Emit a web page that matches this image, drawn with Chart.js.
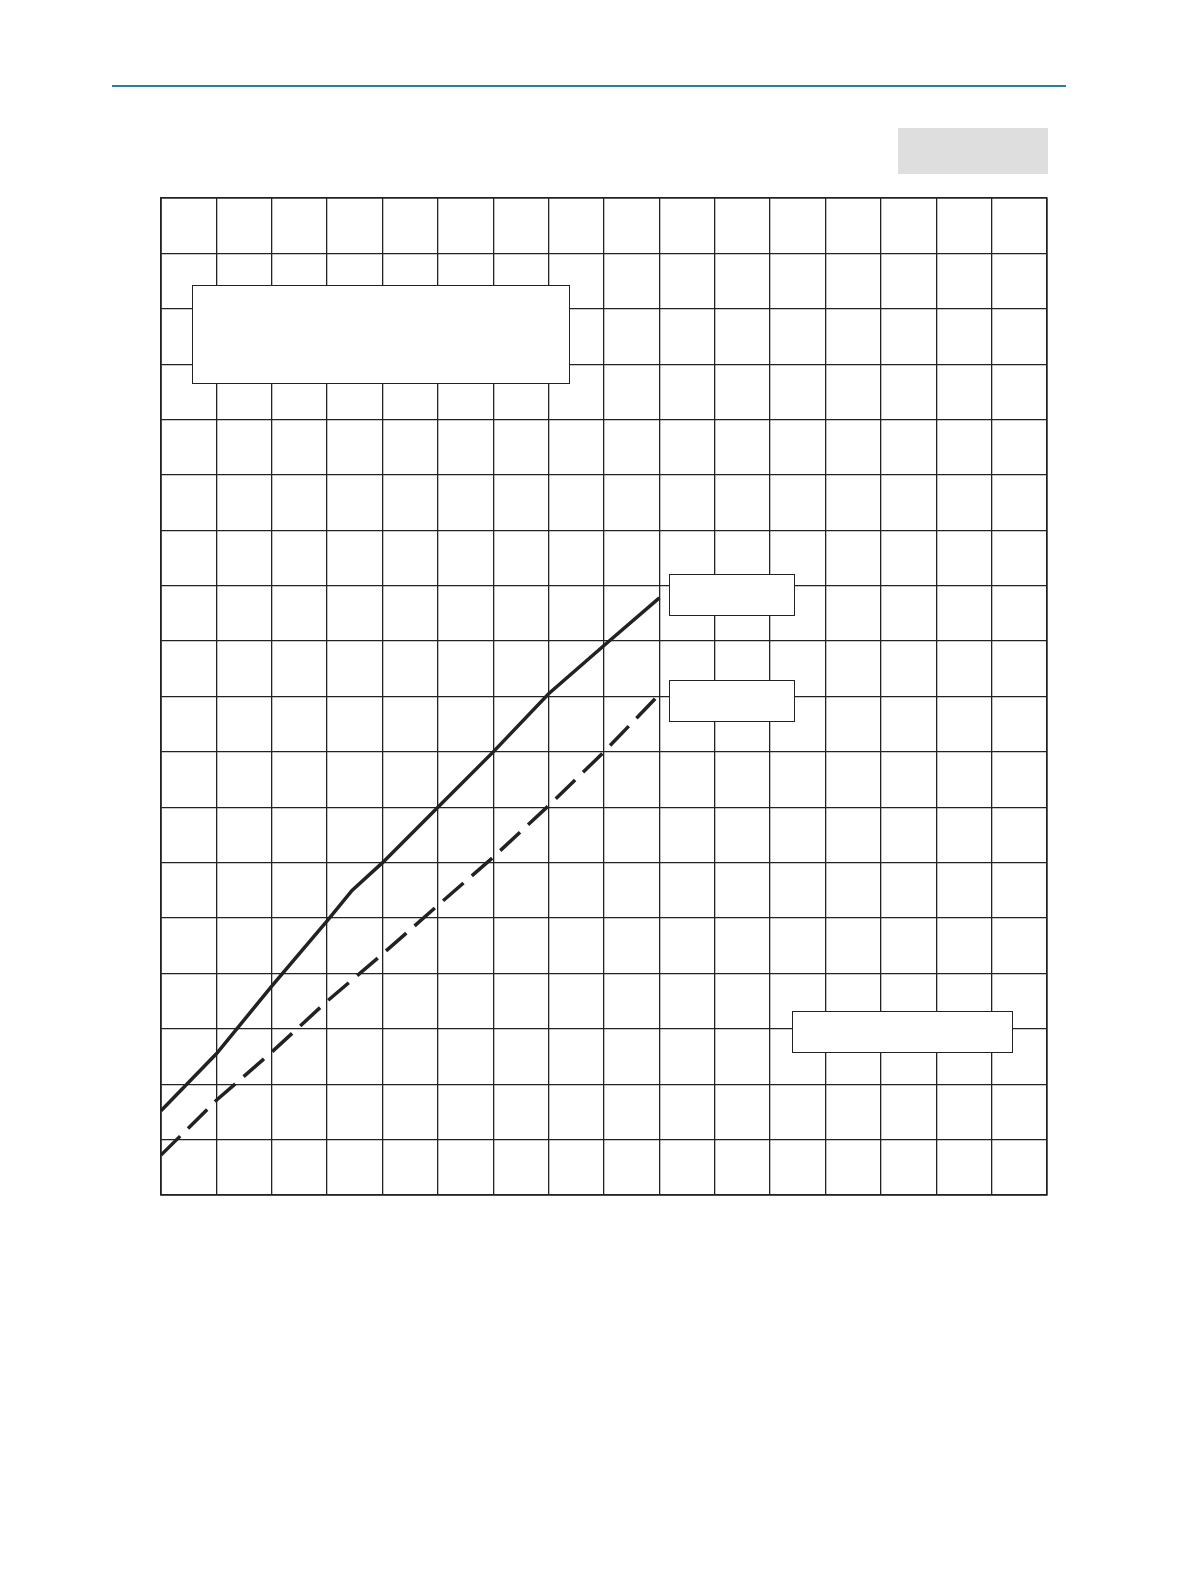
<!DOCTYPE html>
<html>
<head>
<meta charset="utf-8">
<script src="https://cdn.jsdelivr.net/npm/chart.js@4.4.0/dist/chart.umd.min.js"></script>
<style>
  html, body { margin: 0; padding: 0; background: #fff; }
  body { width: 1191px; height: 1584px; position: relative; overflow: hidden; font-family: "Noto Sans", sans-serif; }
  #rule { position: absolute; left: 112px; top: 85px; width: 954px; height: 1.5px; background: #2a7f98; }
  #grayTag { position: absolute; left: 898px; top: 128px; width: 150px; height: 46px; background: #dedede; }
  #wrap { position: absolute; left: 151px; top: 188px; width: 906px; height: 1017px; }
  .box { position: absolute; background: #fff; border: 1.5px solid #222; box-sizing: border-box; }
</style>
</head>
<body>
<div id="rule"></div>
<div id="grayTag"></div>
<div id="wrap"><canvas id="c" width="906" height="1017"></canvas></div>
<div class="box" style="left:192px; top:285px; width:378px; height:99px;"></div>
<div class="box" style="left:669px; top:574px; width:126px; height:42px;"></div>
<div class="box" style="left:669px; top:680px; width:126px; height:42px;"></div>
<div class="box" style="left:792px; top:1011px; width:221px; height:42px;"></div>
<script>
// Grid extents (in grid units)
const xMin = 0, xMax = 16;
const yMin = 0, yMax = 18;

// Solid curve
const solidX = [0, 1, 2, 3, 3.45, 4, 5, 6, 7, 8, 9];
const solidY = [1.52, 2.55, 3.77, 4.95, 5.5, 6.0, 7.0, 8.0, 9.05, 9.92, 10.78];

// Dashed curve
const dashedX = [0, 1, 2, 3, 4, 5, 6, 7, 8, 9];
const dashedY = [0.72, 1.71, 2.58, 3.5, 4.35, 5.23, 6.1, 7.03, 8.0, 9.04];

const toPts = (xs, ys) => xs.map((x, i) => ({ x: x, y: ys[i] }));

new Chart(document.getElementById('c'), {
  type: 'scatter',
  data: {
    datasets: [
      {
        data: toPts(solidX, solidY),
        showLine: true,
        borderColor: '#222222',
        borderWidth: 3.5,
        pointRadius: 0,
        tension: 0,
        fill: false
      },
      {
        data: toPts(dashedX, dashedY),
        showLine: true,
        borderColor: '#222222',
        borderWidth: 3.5,
        borderDash: [27, 11],
        pointRadius: 0,
        tension: 0,
        fill: false
      }
    ]
  },
  options: {
    responsive: false,
    animation: false,
    layout: { padding: 10 },
    plugins: { legend: { display: false }, tooltip: { enabled: false } },
    scales: {
      x: {
        type: 'linear', min: xMin, max: xMax,
        ticks: { display: false, stepSize: 1 },
        grid: { color: '#222222', lineWidth: 1.3, drawTicks: false },
        border: { display: true, color: '#222222', width: 1.3 }
      },
      y: {
        type: 'linear', min: yMin, max: yMax,
        ticks: { display: false, stepSize: 1 },
        grid: { color: '#222222', lineWidth: 1.3, drawTicks: false },
        border: { display: true, color: '#222222', width: 1.3 }
      }
    }
  },
  plugins: [{
    id: 'frame',
    afterDraw(chart) {
      const { ctx, chartArea: a } = chart;
      ctx.save();
      ctx.strokeStyle = '#222222';
      ctx.lineWidth = 1.3;
      ctx.strokeRect(a.left, a.top, a.right - a.left, a.bottom - a.top);
      ctx.restore();
    }
  }]
});
</script>
</body>
</html>
